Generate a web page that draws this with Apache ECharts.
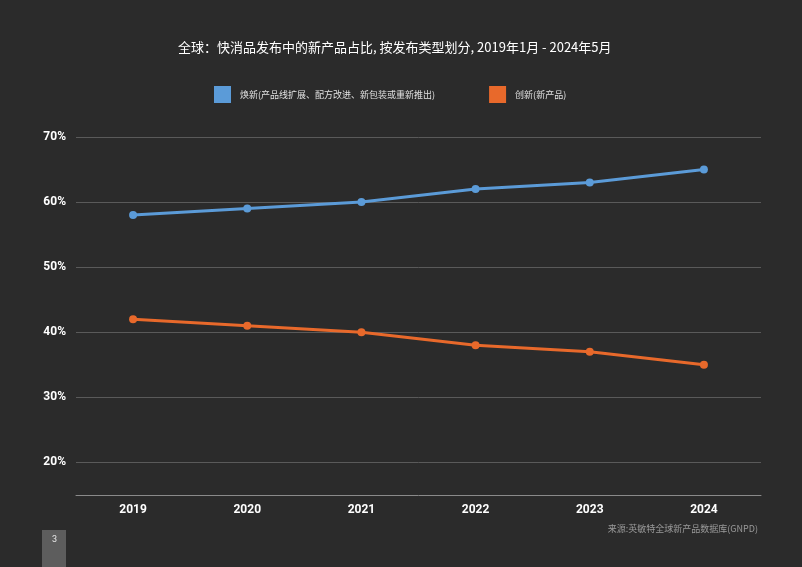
<!DOCTYPE html>
<html><head><meta charset="utf-8">
<script src="https://cdn.jsdelivr.net/npm/echarts@6/dist/echarts.min.js"></script>
<style>html,body{margin:0;padding:0;background:#2b2b2b;}#c{width:802px;height:567px;}</style>
</head><body><div id="c"></div>
<script>
const categories = ['2019','2020','2021','2022','2023','2024'];
const seriesNames = ['焕新(产品线扩展、配方改进、新包装或重新推出)','创新(新产品)'];
const renewal = [58,59,60,62,63,65];
const innovation = [42,41,40,38,37,35];
const titleText = '全球：快消品发布中的新产品占比, 按发布类型划分, 2019年1月 - 2024年5月';
const sourceText = '来源:英敏特全球新产品数据库(GNPD)';
const pageNo = '3';

const chart = echarts.init(document.getElementById('c'));
const CJK = '"Noto Sans CJK SC","Noto Sans",sans-serif';
const NUM = 'Roboto,"Noto Sans",sans-serif';
chart.setOption({
  backgroundColor:'#2b2b2b',
  animation:false,
  title:{text:titleText,left:173,top:36,textStyle:{color:'#ffffff',fontSize:13,fontWeight:'normal',fontFamily:CJK}},
  legend:{top:81,left:209,itemWidth:17,itemHeight:17,itemGap:54,icon:'rect',
    textStyle:{color:'#e0e0e0',fontSize:9,fontFamily:CJK,padding:[0,0,0,4]},
    data:seriesNames},
  grid:{left:76,right:41,top:137,bottom:72},
  xAxis:{type:'category',data:categories,boundaryGap:true,
    axisLine:{show:true,lineStyle:{color:'#8a8a8a',width:1}},
    axisTick:{show:false},
    axisLabel:{color:'#ffffff',fontSize:12,fontWeight:'bold',fontFamily:NUM,margin:9}},
  yAxis:{type:'value',min:15,max:70,interval:5,
    axisLine:{show:false},axisTick:{show:false},
    axisLabel:{color:'#ffffff',fontSize:12,fontWeight:'bold',fontFamily:NUM,margin:10,
      formatter:v=> v%10===0 ? v+'%' : ''},
    splitLine:{show:true,lineStyle:{color:['transparent','#5a5a5a'],width:1}}},
  series:[
    {name:seriesNames[0],type:'line',data:renewal,symbol:'circle',symbolSize:8,
      itemStyle:{color:'#5b9bd8'},lineStyle:{width:3,color:'#5b9bd8'}},
    {name:seriesNames[1],type:'line',data:innovation,symbol:'circle',symbolSize:8,
      itemStyle:{color:'#e8692b'},lineStyle:{width:3,color:'#e8692b'}}
  ],
  graphic:[
    {type:'rect',left:42,top:530,shape:{width:24,height:37},style:{fill:'#5d5d5d'}},
    {type:'text',left:52,top:535,style:{text:pageNo,fill:'#e8e8e8',fontSize:9,fontFamily:NUM}},
    {type:'text',right:44,top:524,style:{text:sourceText,fill:'#9a9a9a',fontSize:9,fontFamily:CJK}}
  ]
});
</script></body></html>
